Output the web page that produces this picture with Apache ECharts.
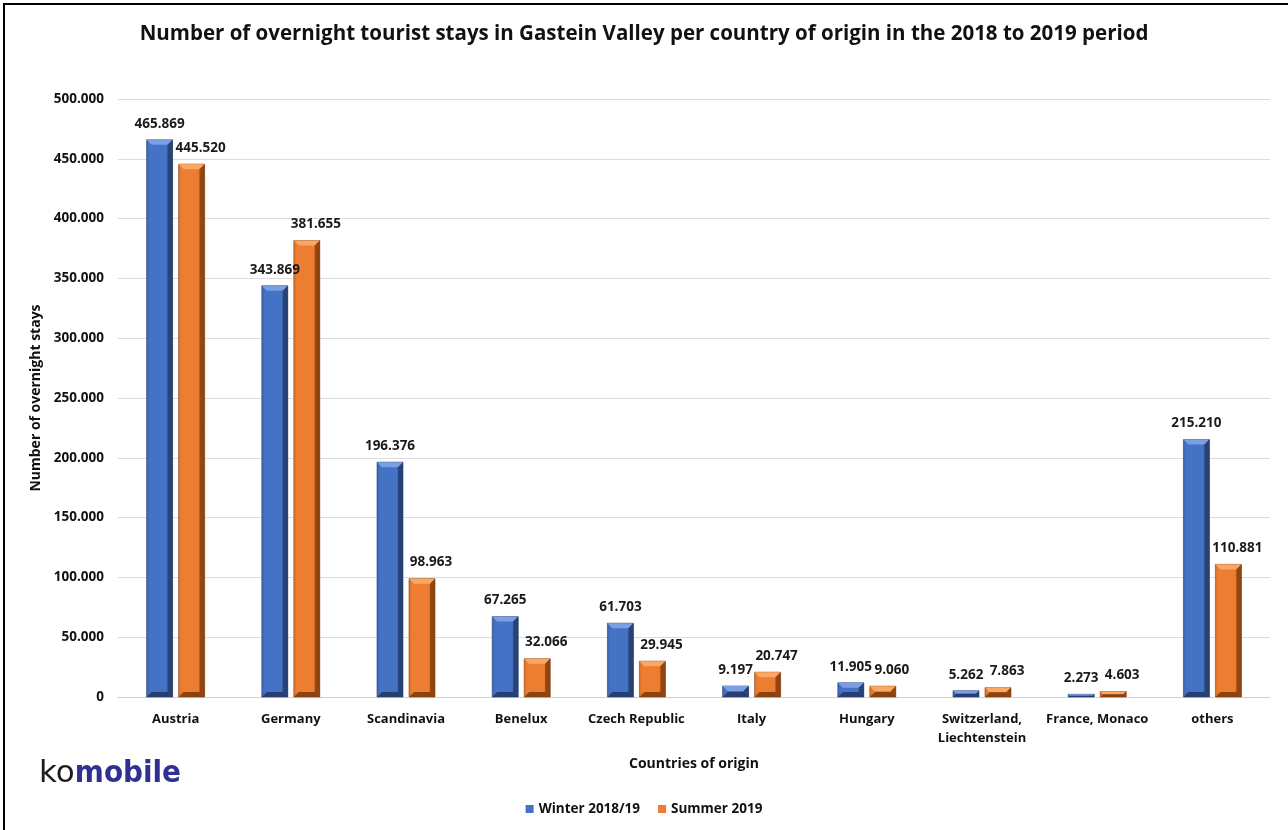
<!DOCTYPE html>
<html>
<head>
<meta charset="utf-8">
<script src="https://cdn.jsdelivr.net/npm/echarts@6/dist/echarts.min.js"></script>
<style>
  html, body { margin: 0; padding: 0; background: #ffffff; }
  #chart { width: 1288px; height: 830px; }
</style>
</head>
<body>
<div id="chart"></div>
<script>
// Overnight stays by country of origin, Gastein Valley
const categories = ['Austria', 'Germany', 'Scandinavia', 'Benelux', 'Czech Republic', 'Italy', 'Hungary', 'Switzerland,\nLiechtenstein', 'France, Monaco', 'others'];
const winter2018 = [465869, 343869, 196376, 67265, 61703, 9197, 11905, 5262, 2273, 215210];
const summer2019 = [445520, 381655, 98963, 32066, 29945, 20747, 9060, 7863, 4603, 110881];
const seriesNames = ['Winter 2018/19', 'Summer 2019'];

const FONT = '"Open Sans", "Liberation Sans", sans-serif';

// 465869 -> "465.869"
function dotThousands(n) {
  return String(Math.round(n)).replace(/\B(?=(\d{3})+(?!\d))/g, '.');
}

// Bevelled bar drawn from the cartesian scale, with its value label on top
function bevelBar(offset, labelShift, pal) {
  return function (params, api) {
    const i = api.value(0), v = api.value(1);
    const top = api.coord([i, v]);
    const base = api.coord([i, 0]);
    const bw = 26;
    const cx = top[0] + offset;
    const x0 = cx - bw / 2, x1 = cx + bw / 2;
    const y0 = top[1], y1 = base[1];
    const h = Math.max(y1 - y0, 1);
    const b = Math.min(5, h / 2);
    return {
      type: 'group',
      children: [
        { type: 'rect', shape: { x: x0, y: y0, width: bw, height: h },
          style: { fill: new echarts.graphic.LinearGradient(0, 0, 1, 0, [
            { offset: 0, color: pal.edge },
            { offset: 0.12, color: pal.main },
            { offset: 0.75, color: pal.main },
            { offset: 1, color: pal.dark }
          ]), stroke: pal.dark, lineWidth: 0.6 } },
        { type: 'polygon', shape: { points: [[x0, y0], [x1, y0], [x1 - b, y0 + b], [x0 + b, y0 + b]] },
          style: { fill: pal.light } },
        { type: 'polygon', shape: { points: [[x0, y1], [x1, y1], [x1 - b, y1 - b], [x0 + b, y1 - b]] },
          style: { fill: pal.dark } },
        { type: 'polygon', shape: { points: [[x1, y0], [x1, y1], [x1 - b, y1 - b], [x1 - b, y0 + b]] },
          style: { fill: pal.dark, opacity: 0.85 } },
        { type: 'text', x: cx + labelShift, y: y0 - 9, z2: 100,
          style: { text: dotThousands(v), align: 'center', verticalAlign: 'bottom',
            font: 'bold 13.5px ' + FONT, fill: '#1a1a1a' } }
      ]
    };
  };
}

const bluePal = { main: '#4472c4', edge: '#3b63ad', light: '#7b9fe2', dark: '#263f70' };
const orangePal = { main: '#ed7d31', edge: '#d86c22', light: '#f8a863', dark: '#8a4210' };

const chart = echarts.init(document.getElementById('chart'));
chart.setOption({
  backgroundColor: '#ffffff',
  animation: false,
  title: {
    text: 'Number of overnight tourist stays in Gastein Valley per country of origin in the 2018 to 2019 period',
    left: 'center', top: 19,
    textStyle: { fontFamily: FONT, fontWeight: 'bold', fontSize: 20.5, color: '#111' }
  },
  legend: {
    bottom: 9, left: 'center',
    icon: 'rect', itemWidth: 8, itemHeight: 8, itemGap: 18,
    textStyle: { fontFamily: FONT, fontWeight: 'bold', fontSize: 13.5, color: '#111' },
    data: seriesNames
  },
  grid: { left: 118, right: 18, top: 99, bottom: 133 },
  xAxis: {
    type: 'category',
    data: categories,
    name: 'Countries of origin',
    nameLocation: 'middle', nameGap: 60,
    nameTextStyle: { fontFamily: FONT, fontWeight: 'bold', fontSize: 14, color: '#111' },
    axisLine: { lineStyle: { color: '#d0d0d0', width: 1 } },
    axisTick: { show: false },
    axisLabel: { interval: 0, margin: 13, fontFamily: FONT, fontWeight: 'bold', fontSize: 13, color: '#111', lineHeight: 19 }
  },
  yAxis: {
    type: 'value',
    min: 0, max: 500000, interval: 50000,
    name: 'Number of overnight stays',
    nameLocation: 'middle', nameGap: 67,
    nameTextStyle: { fontFamily: FONT, fontWeight: 'bold', fontSize: 14, color: '#111' },
    axisLine: { show: false },
    axisTick: { show: false },
    axisLabel: { margin: 14, fontFamily: FONT, fontWeight: 'bold', fontSize: 13.5, color: '#111', formatter: dotThousands },
    splitLine: { lineStyle: { color: '#dcdcdc', width: 1 } }
  },
  series: [
    {
      name: seriesNames[0], type: 'custom', coordinateSystem: 'cartesian2d',
      itemStyle: { color: bluePal.main },
      encode: { x: 0, y: 1 },
      renderItem: bevelBar(-16, 0, bluePal),
      data: winter2018.map((v, i) => [i, v])
    },
    {
      name: seriesNames[1], type: 'custom', coordinateSystem: 'cartesian2d',
      itemStyle: { color: orangePal.main },
      encode: { x: 0, y: 1 },
      renderItem: bevelBar(16, 9, orangePal),
      data: summer2019.map((v, i) => [i, v])
    }
  ],
  graphic: [
    // outer frame (top and left edges)
    { type: 'line', shape: { x1: 3, y1: 4, x2: 1288, y2: 4 }, style: { stroke: '#000', lineWidth: 2 } },
    { type: 'line', shape: { x1: 4, y1: 3, x2: 4, y2: 830 }, style: { stroke: '#000', lineWidth: 2 } },
    // logo
    { type: 'text', left: 39, top: 758,
      style: {
        text: '{a|ko}{b|mobile}',
        rich: {
          a: { fontFamily: '"DejaVu Sans", sans-serif', fontSize: 31, fill: '#1c1c1c' },
          b: { fontFamily: '"DejaVu Sans Condensed", "DejaVu Sans", sans-serif', fontSize: 31, fontWeight: 'bold', fill: '#2e3192' }
        }
      } }
  ]
});
</script>
</body>
</html>
